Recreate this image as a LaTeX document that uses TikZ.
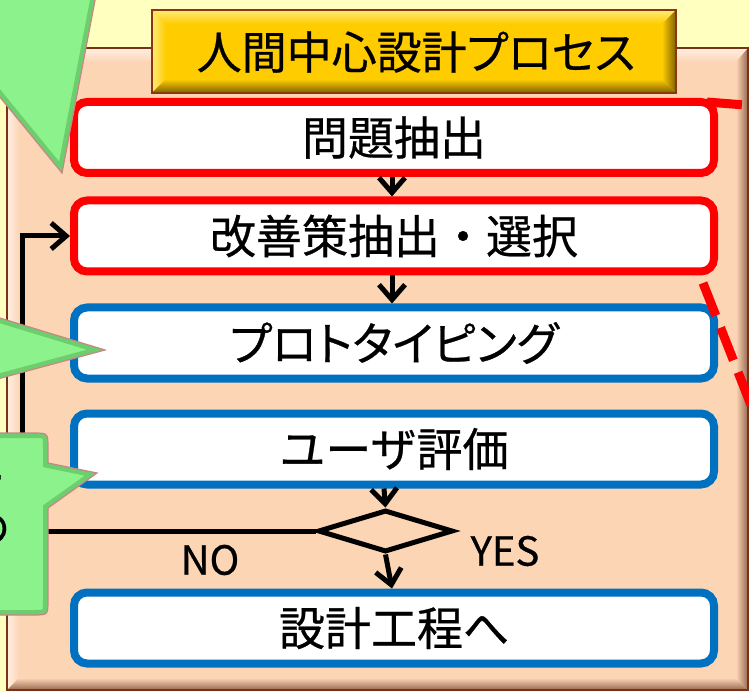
\documentclass[tikz,border=0pt]{standalone}
\usepackage{fontspec}
\setmainfont{Noto Sans CJK JP}[FakeBold=0.6]
\newfontfamily\jpp{Noto Sans CJK JP}[FakeBold=0.6,RawFeature=+palt]
\usetikzlibrary{arrows.meta,shapes.geometric}
\definecolor{bgyellow}{RGB}{255,255,192}
\definecolor{peach}{RGB}{252,213,181}
\definecolor{peachlight}{RGB}{255,240,228}
\definecolor{panelborder}{RGB}{120,50,20}
\definecolor{paneldark}{RGB}{150,105,80}
\definecolor{gold}{RGB}{255,204,0}
\definecolor{goldlight}{RGB}{255,232,110}
\definecolor{golddark}{RGB}{135,105,0}
\definecolor{titleborder}{RGB}{140,55,20}
\definecolor{boxred}{RGB}{255,0,0}
\definecolor{boxblue}{RGB}{0,112,192}
\definecolor{callgreen}{RGB}{140,242,140}
\definecolor{callgreendark}{RGB}{50,140,50}
\definecolor{calloutline}{RGB}{200,135,135}
\begin{document}
\begin{tikzpicture}[x=1pt,y=-1pt,
  stepbox/.style={rectangle, rounded corners=13pt, fill=white, line width=8pt,
    minimum width=640pt, minimum height=71pt, inner sep=0pt,
    font=\fontsize{46}{50}\selectfont},
  redbox/.style={stepbox, draw=boxred},
  bluebox/.style={stepbox, draw=boxblue},
  flow/.style={line width=5pt, -{Straight Barb[length=15pt,width=26pt]}},
  decision/.style={diamond, draw=black, line width=5pt, minimum width=135pt,
    minimum height=42pt, inner sep=0pt},
  lbl/.style={font=\fontsize{40}{44}\selectfont, inner sep=0pt},
  linkline/.style={draw=boxred, line width=9pt, dash pattern=on 35pt off 13pt},
  calloutborder/.style={draw=calloutline, line width=1.2pt},
  callshade/.style={draw=callgreendark, line width=10pt, opacity=0.35},
  titlebox/.style={rectangle, fill=gold, draw=titleborder, line width=2pt,
    minimum width=522pt, minimum height=81pt, inner sep=0pt},
  titletext/.style={font=\fontsize{45}{50}\selectfont, inner sep=0pt},
]
% background
\useasboundingbox (0,0) rectangle (749,692);
\fill[bgyellow] (0,0) rectangle (749,692);

% panel
\fill[peach] (7,48) rectangle (748,690);
\shade[top color=peachlight, bottom color=peach] (7,48) -- (748,48) -- (736,62) -- (19,62) -- cycle;
\shade[left color=peachlight, right color=peach] (7,48) -- (19,62) -- (19,678) -- (7,690) -- cycle;
\shade[left color=peach, right color=paneldark] (748,48) -- (748,690) -- (736,678) -- (736,62) -- cycle;
\shade[top color=peach, bottom color=paneldark] (7,690) -- (748,690) -- (736,678) -- (19,678) -- cycle;
\draw[panelborder, line width=1.5pt] (7,48) rectangle (748,690);

% title
\node[titlebox] (title) at (414,51.5) {};
\shade[top color=goldlight, bottom color=gold] (153,11) -- (675,11) -- (662,24) -- (166,24) -- cycle;
\shade[left color=goldlight, right color=gold] (153,11) -- (166,24) -- (166,79) -- (153,92) -- cycle;
\shade[left color=gold, right color=golddark] (675,11) -- (675,92) -- (662,79) -- (662,24) -- cycle;
\shade[top color=gold, bottom color=golddark] (153,92) -- (675,92) -- (662,79) -- (166,79) -- cycle;
\draw[titleborder, line width=2pt] (152,10) rectangle (676,93);
\node[titletext] (titlelabel) at (416,52) {人間中心設計{\jpp プロセス}};

% process boxes
\node[redbox]  (b1) at (394,137.5) {問題抽出};
\node[redbox]  (b2) at (394,236)   {改善策抽出・選択};
\node[bluebox] (b3) at (394,343)   {\jpp プロトタイピング};
\node[bluebox] (b4) at (394,449)   {ユーザ評価};
\node[decision] (dia) at (385.5,531) {};
\node[bluebox] (b5) at (394,628)   {設計工程へ};

% connectors
\draw[flow] ([xshift=-2pt]b1.south) -- ([xshift=-2pt]b2.north);
\draw[flow] ([xshift=-2pt]b2.south) -- ([xshift=-2pt]b3.north);
\draw[flow] ([xshift=-10pt]b4.south) -- (dia.north);
\draw[flow] (dia.south) -- ([xshift=-2pt]b5.north);
\coordinate (loopcorner) at (22,531);
\draw[flow] (dia.west) -- (loopcorner) |- (b2.west);

% labels
\node[lbl] (nolbl) at (210,560) {NO};
\node[lbl] (yeslbl) at (505,551) {YES};

% red dashed links
\coordinate (la1) at (707,102);
\coordinate (la2) at (770,107);
\draw[linkline] (la1) -- (la2);
\coordinate (lb1) at (703,283);
\coordinate (lb2) at (760,428);
\draw[linkline] (lb1) -- (lb2);

% callout 1 (top left pointer)
\fill[callgreen] (62,173) -- (97,-10) -- (-10,-10) -- (-10,85) -- cycle;
\begin{scope}
  \clip (62,173) -- (97,-10) -- (-10,-10) -- (-10,85) -- cycle;
  \draw[callshade] (62,173) -- (97,-10) -- (-10,-10) -- (-10,85) -- cycle;
\end{scope}
\draw[calloutborder] (62,173) -- (97,-10) -- (-10,-10) -- (-10,85) -- cycle;

% callout 2 (middle pointer)
\fill[callgreen] (105,350) -- (-10,315) -- (-10,381) -- cycle;
\begin{scope}
  \clip (105,350) -- (-10,315) -- (-10,381) -- cycle;
  \draw[callshade] (105,350) -- (-10,315) -- (-10,381) -- cycle;
\end{scope}
\draw[calloutborder] (105,350) -- (-10,315) -- (-10,381) -- cycle;

% callout 3 (rounded box with pointer)
\fill[callgreen] (-30,433) -- (33,433) .. controls (48,433) .. (48,448) -- (48,463) -- (97,473) -- (48,508) -- (48,600) .. controls (48,615) .. (33,615) -- (-30,615) -- cycle;
\begin{scope}
  \clip (-30,433) -- (33,433) .. controls (48,433) .. (48,448) -- (48,463) -- (97,473) -- (48,508) -- (48,600) .. controls (48,615) .. (33,615) -- (-30,615) -- cycle;
  \draw[callshade] (-30,433) -- (33,433) .. controls (48,433) .. (48,448) -- (48,463) -- (97,473) -- (48,508) -- (48,600) .. controls (48,615) .. (33,615) -- (-30,615) -- cycle;
  \node[lbl, anchor=east] (ct1) at (5,484) {ー};
  \node[lbl, anchor=east] (ct2) at (10,529) {の};
\end{scope}
\draw[calloutborder] (-30,433) -- (33,433) .. controls (48,433) .. (48,448) -- (48,463) -- (97,473) -- (48,508) -- (48,600) .. controls (48,615) .. (33,615) -- (-30,615) -- cycle;
\end{tikzpicture}
\end{document}
